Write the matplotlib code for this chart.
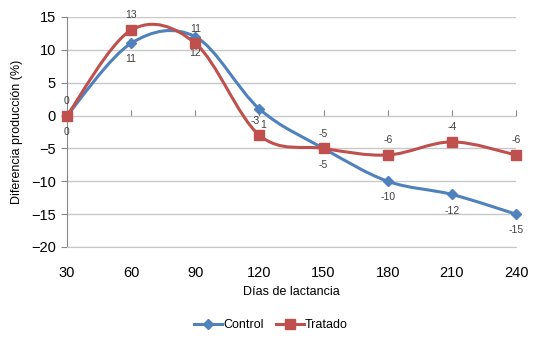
import numpy as np
import matplotlib.pyplot as plt
from matplotlib.path import Path
from matplotlib.patches import PathPatch
from matplotlib.lines import Line2D

plt.rcParams['font.family'] = ['Liberation Sans', 'DejaVu Sans']

# data
dias = [30, 60, 90, 120, 150, 180, 210, 240]
control = [0, 11, 12, 1, -5, -10, -12, -15]
tratado = [0, 13, 11, -3, -5, -6, -4, -6]

blue = '#4F81BD'
red = '#C0504D'
grid_c = '#C8C8C8'
axis_c = '#888888'
label_c = '#404040'


def smooth_path(x, y):
    # Excel style smoothed line: cubic Bezier segments, Catmull-Rom control points
    pts = np.column_stack([x, y]).astype(float)
    ext = np.vstack([pts[0], pts, pts[-1]])
    verts = [pts[0]]
    codes = [Path.MOVETO]
    for i in range(len(pts) - 1):
        p0, p1, p2, p3 = ext[i], ext[i + 1], ext[i + 2], ext[i + 3]
        c1 = p1 + (p2 - p0) / 6.0
        c2 = p2 - (p3 - p1) / 6.0
        verts += [c1, c2, p2]
        codes += [Path.CURVE4] * 3
    return Path(verts, codes)


fig = plt.figure(figsize=(5.5, 3.4), dpi=100)
ax = fig.add_axes([67 / 550, 1 - 247 / 340, (516 - 67) / 550, (247 - 17) / 340])

ax.set_xlim(dias[0], dias[-1])
ax.set_ylim(-20, 15)
ax.set_yticks(range(-20, 16, 5))
ax.set_xticks(dias)

ax.yaxis.grid(True, color=grid_c, linewidth=1)
ax.set_axisbelow(True)
for s in ['top', 'right']:
    ax.spines[s].set_visible(False)
ax.spines['left'].set_color(axis_c)
ax.spines['bottom'].set_color(grid_c)
ax.tick_params(axis='y', length=4, color=axis_c, labelsize=10.5, pad=4)
ax.tick_params(axis='x', length=0, labelsize=10.5, pad=14)

# horizontal axis line crossing at zero, ticks pointing down
zero_loc = (0 - ax.get_ylim()[0]) / (ax.get_ylim()[1] - ax.get_ylim()[0])
sec = ax.secondary_xaxis(zero_loc)
sec.set_xticks(dias)
sec.tick_params(axis='x', length=4, color=axis_c, labelbottom=False, labeltop=False,
                direction='out')
sec.spines['bottom'].set_color(axis_c)
sec.spines['top'].set_visible(False)

for vals, col in [(control, blue), (tratado, red)]:
    ax.add_patch(PathPatch(smooth_path(dias, vals), facecolor='none', edgecolor=col,
                           linewidth=2.2, zorder=3, capstyle='round'))

ax.plot(dias, control, linestyle='none', marker='D', markersize=5.5, color=blue, zorder=4,
        clip_on=False)
ax.plot(dias, tratado, linestyle='none', marker='s', markersize=7, color=red, zorder=5,
        clip_on=False)

# labels: Control below its points, Tratado above; the crowded pair at 120 nudged apart
for x, v in zip(dias, control):
    dx = 3 if x == 120 else 0
    ax.annotate(str(v), (x, v), xytext=(dx, -8), textcoords='offset points',
                ha='center', va='top', fontsize=7.5, color=label_c)
for x, v in zip(dias, tratado):
    dx = -3 if x == 120 else 0
    ax.annotate(str(v), (x, v), xytext=(dx, 7), textcoords='offset points',
                ha='center', va='bottom', fontsize=7.5, color=label_c)

ax.set_ylabel('Diferencia producción (%)', fontsize=9, labelpad=6)
ax.set_xlabel('Días de lactancia', fontsize=9, labelpad=4)

handles = [Line2D([0], [0], color=blue, linewidth=2.2, marker='D', markersize=5),
           Line2D([0], [0], color=red, linewidth=2.2, marker='s', markersize=7)]
fig.legend(handles, ['Control', 'Tratado'], loc='center', bbox_to_anchor=(271 / 550, 1 - 325 / 340),
           ncol=2, frameon=False, fontsize=9, handlelength=2.2, handletextpad=0.1,
           columnspacing=1.0, numpoints=1)

fig.savefig('out.png', dpi=100)
